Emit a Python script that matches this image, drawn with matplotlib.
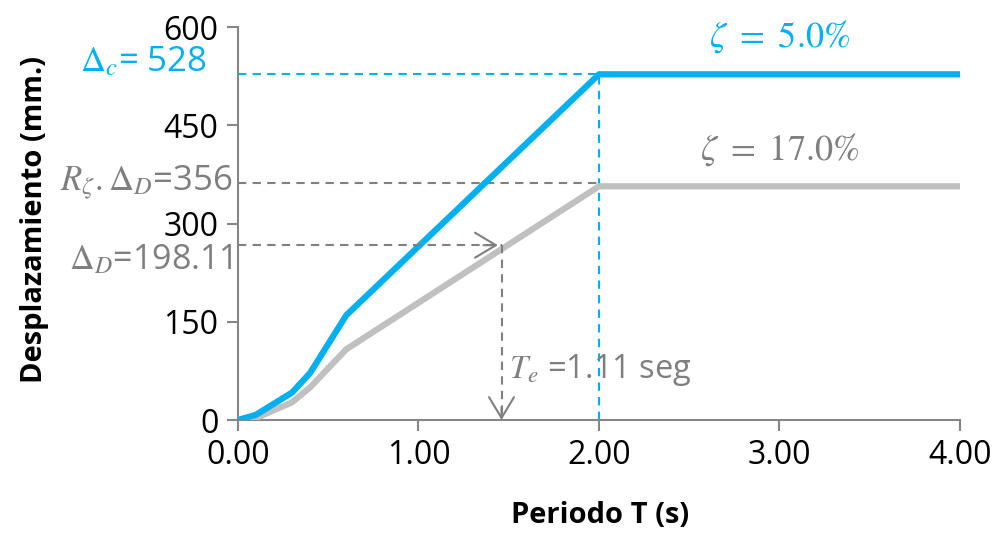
import matplotlib
matplotlib.use("Agg")
import matplotlib.pyplot as plt

plt.rcParams['font.family'] = ['Open Sans', 'DejaVu Sans']
plt.rcParams['mathtext.fontset'] = 'stix'

# espectro de desplazamiento
periodo = [0.0, 0.1, 0.3, 0.4, 0.6, 2.0, 4.0]
desp_5 = [0, 8, 42, 72, 160, 528, 528]
desp_17 = [0, 3, 27, 50, 108, 357, 357]

delta_c = 528
r_delta_d = 362
delta_d_nivel = 267
t_e = 1.46

xticks = [0, 1, 2, 3, 4]
xticklabels = ['0.00', '1.00', '2.00', '3.00', '4.00']
yticks = [0, 150, 300, 450, 600]

azul = '#00B0F0'
gris_linea = '#C0C0C0'
gris_dash = '#808080'
gris_texto = '#7F7F7F'
dash = (0, (4, 3))

fig = plt.figure(figsize=(9.94, 5.33), dpi=100)
ax = fig.add_axes([0.2394, 0.212, 0.7264, 0.737])

ax.plot(periodo, desp_17, color=gris_linea, lw=4.5, solid_capstyle='round', zorder=3)
ax.plot(periodo, desp_5, color=azul, lw=4.5, solid_capstyle='round', zorder=4)

# lineas guia
ax.plot([0, 2], [delta_c, delta_c], color=azul, lw=1.5, ls=dash, zorder=2)
ax.plot([2, 2], [0, delta_c], color=azul, lw=1.5, ls=dash, zorder=2)
ax.plot([0, 2], [r_delta_d, r_delta_d], color=gris_dash, lw=1.5, ls=dash, zorder=2)

# flechas: linea discontinua + punta solida
ax.plot([0, t_e], [delta_d_nivel, delta_d_nivel], color=gris_dash, lw=1.5, ls=dash, zorder=5)
ax.plot([t_e, t_e], [delta_d_nivel, 0], color=gris_dash, lw=1.5, ls=dash, zorder=5)
ax.annotate('', xy=(t_e - 0.02, delta_d_nivel), xytext=(t_e - 0.1, delta_d_nivel),
            arrowprops=dict(arrowstyle='->,head_length=0.5,head_width=0.3', color=gris_dash, lw=1.5,
                            mutation_scale=30, shrinkA=0, shrinkB=0), zorder=5)
ax.annotate('', xy=(t_e, 0), xytext=(t_e, 20),
            arrowprops=dict(arrowstyle='->,head_length=0.5,head_width=0.3', color=gris_dash, lw=1.5,
                            mutation_scale=30, shrinkA=0, shrinkB=0), zorder=5)

# textos
ax.text(-0.17, 546, r'$\Delta_c$= 528', color=azul, fontsize=25, ha='right', va='center', clip_on=False)
ax.text(-0.03, 362, r'$R_\zeta.\Delta_D$=356', color=gris_texto, fontsize=25, ha='right', va='center', clip_on=False)
ax.text(-0.03, 243, r'$\Delta_D$=198.11', color=gris_texto, fontsize=24.5, ha='right', va='center', clip_on=False)
ax.text(1.5, 76, r'$T_e$ =1.11 seg', color=gris_texto, fontsize=23.5, ha='left', va='center')
ax.text(3.0, 585, r'$\zeta\ =\ 5.0\%$', color=azul, fontsize=26, ha='center', va='center', clip_on=False)
ax.text(3.0, 412, r'$\zeta\ =\ 17.0\%$', color=gris_texto, fontsize=26, ha='center', va='center')

ax.set_xlim(0, 4)
ax.set_ylim(0, 600)
ax.set_xticks(xticks)
ax.set_xticklabels(xticklabels)
ax.set_yticks(yticks)

for s in ['top', 'right']:
    ax.spines[s].set_visible(False)
for s in ['left', 'bottom']:
    ax.spines[s].set_color('#868686')
    ax.spines[s].set_linewidth(1.5)
ax.tick_params(axis='both', direction='out', length=8, width=1.5, color='#868686',
               labelsize=23, labelcolor='black', pad=6)

ax.set_xlabel('Periodo T (s)', fontsize=21, fontweight='bold')
ax.set_ylabel('Desplazamiento (mm.)', fontsize=21, fontweight='bold')
ax.xaxis.set_label_coords(0.501, -0.205)
ax.yaxis.set_label_coords(-0.262, 0.51)

fig.savefig('out.png', dpi=100)
